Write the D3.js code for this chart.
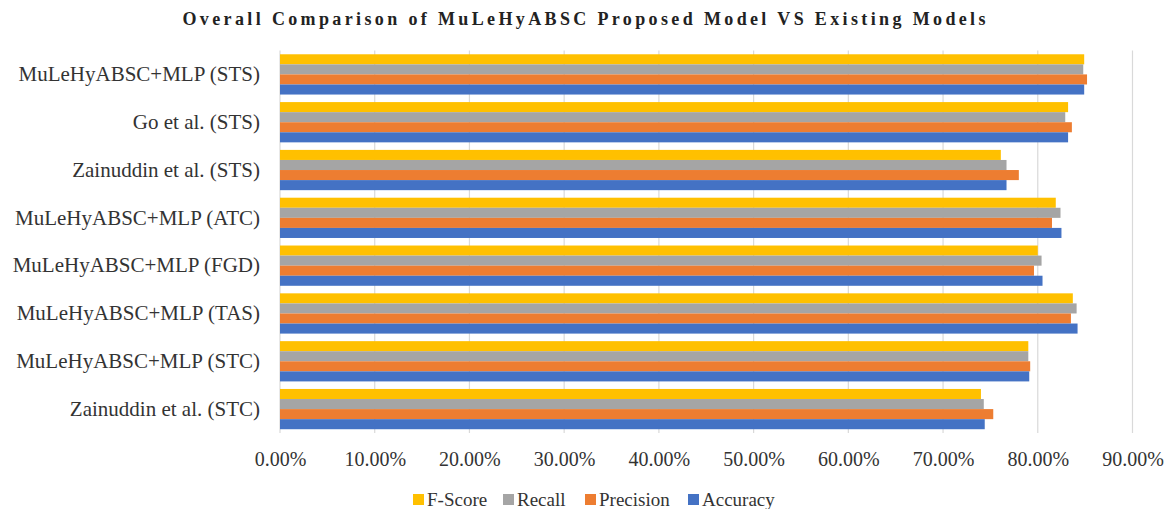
<!DOCTYPE html>
<html><head><meta charset="utf-8">
<script src="https://cdn.jsdelivr.net/npm/d3@7"></script>
<style>body{margin:0;background:#fff}svg{display:block}</style>
</head><body>
<svg id="c" width="1164" height="509"></svg>
<script>
const categories = ["MuLeHyABSC+MLP (STS)","Go et al. (STS)","Zainuddin et al. (STS)","MuLeHyABSC+MLP (ATC)","MuLeHyABSC+MLP (FGD)","MuLeHyABSC+MLP (TAS)","MuLeHyABSC+MLP (STC)","Zainuddin et al. (STC)"];
const seriesNames = ["F-Score","Recall","Precision","Accuracy"];
const fScore    = [0.849,0.832,0.761,0.819,0.800,0.837,0.790,0.740];
const recall    = [0.848,0.829,0.767,0.824,0.804,0.841,0.790,0.743];
const precision = [0.852,0.836,0.780,0.815,0.796,0.835,0.792,0.753];
const accuracy  = [0.849,0.832,0.767,0.825,0.805,0.842,0.791,0.744];
const tickValues = [0,0.1,0.2,0.3,0.4,0.5,0.6,0.7,0.8,0.9];
const colors = ["#FFC000","#A5A5A5","#ED7D31","#4472C4"];
const title = "Overall Comparison of MuLeHyABSC Proposed Model VS Existing Models";

(function(){
const seriesVals = [fScore, recall, precision, accuracy];
const svg = d3.select("#c");
const pL = 280, pR = 1132.5, pT = 50.5, pB = 433;
const font = "'Liberation Serif','Times New Roman',serif";

const x = d3.scaleLinear().domain([0,0.9]).range([pL,pR]);
const y = d3.scaleBand().domain(categories).range([pT,pB]).paddingInner(0.75/4.75).paddingOuter(0.375/4.75);
const ys = d3.scaleBand().domain(seriesNames).range([0,y.bandwidth()]);

svg.append("g").selectAll("line").data(tickValues).join("line")
  .attr("x1",d=>x(d)).attr("x2",d=>x(d)).attr("y1",pT).attr("y2",pB)
  .attr("stroke","#D9D9D9").attr("stroke-width",1.2);

const g = svg.append("g");
seriesNames.forEach((s,si)=>{
  g.append("g").selectAll("rect").data(categories).join("rect")
    .attr("x",x(0))
    .attr("y",(c)=>y(c)+ys(s))
    .attr("width",(c,i)=>x(seriesVals[si][i])-x(0))
    .attr("height",ys.bandwidth())
    .attr("fill",colors[si]);
});

const xAxis = d3.axisBottom(x).tickValues(tickValues).tickFormat(d3.format(".2%")).tickSize(0).tickPadding(0);
const xa = svg.append("g").attr("transform",`translate(0,${pB})`).call(xAxis)
  .attr("font-family",font).attr("font-size",20);
xa.select(".domain").remove();
xa.selectAll("text").attr("fill","#333").attr("dy",null).attr("y",33);

const yAxis = d3.axisLeft(y).tickSize(0).tickPadding(20);
const ya = svg.append("g").attr("transform",`translate(${pL},0)`).call(yAxis)
  .attr("font-family",font).attr("font-size",21);
ya.select(".domain").remove();
ya.selectAll("text").attr("fill","#333");

svg.append("text").attr("x",584).attr("y",25).attr("text-anchor","middle")
  .attr("font-family",font).attr("font-weight","bold").attr("font-size",18)
  .attr("fill","#222").attr("textLength",803).attr("lengthAdjust","spacing").text(title);

const legendX = [413,503,585,688];
const lg = svg.append("g");
seriesNames.forEach((s,i)=>{
  lg.append("rect").attr("x",legendX[i]).attr("y",494).attr("width",11).attr("height",11).attr("fill",colors[i]);
  lg.append("text").attr("x",legendX[i]+14).attr("y",506).attr("font-family",font).attr("font-size",19).attr("fill","#333").text(s);
});
})();
</script>
</body></html>
